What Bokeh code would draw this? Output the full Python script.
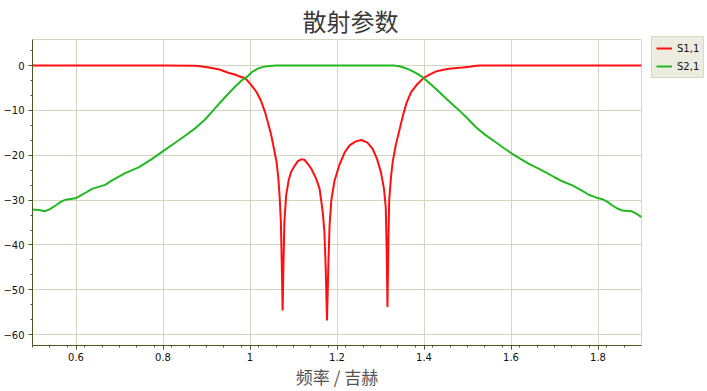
from bokeh.plotting import figure
from bokeh.models import (Range1d, FixedTicker, Legend, LegendItem)
from bokeh.embed import file_html
from bokeh.resources import INLINE

title_text = "散射参数"
x_label = "频率 / 吉赫"
series_names = ["S1,1", "S2,1"]

x_ticks = [0.6, 0.8, 1.0, 1.2, 1.4, 1.6, 1.8]
x_tick_labels = ["0.6", "0.8", "1", "1.2", "1.4", "1.6", "1.8"]
y_ticks = [-60, -50, -40, -30, -20, -10, 0]

freq_s11 = [0.50, 0.60, 0.70, 0.80, 0.874, 0.89, 0.912, 0.93, 0.95, 0.965, 0.975, 0.99,
            1.004, 1.015, 1.025, 1.034, 1.042, 1.049, 1.055, 1.061, 1.065, 1.068, 1.071,
            1.073, 1.075, 1.077, 1.079, 1.083, 1.089, 1.095, 1.103, 1.110, 1.118, 1.125,
            1.132, 1.141, 1.152, 1.160, 1.167, 1.171, 1.174, 1.177, 1.180, 1.183, 1.187,
            1.194, 1.206, 1.218, 1.229, 1.243, 1.256, 1.270, 1.282, 1.292, 1.301, 1.308,
            1.312, 1.314, 1.316, 1.318, 1.320, 1.324, 1.328, 1.335, 1.343, 1.352, 1.360,
            1.370, 1.385, 1.400, 1.415, 1.428, 1.445, 1.458, 1.475, 1.489, 1.505, 1.520,
            1.530, 1.60, 1.70, 1.80, 1.90]
s11_db = [0, 0, 0, 0, -0.05, -0.2, -0.55, -0.9, -1.6, -2.0, -2.4, -2.9,
          -4.5, -5.9, -7.8, -10.2, -13.0, -15.6, -18.5, -21.5, -25.0, -29.0, -35.0,
          -44.0, -54.6, -44.0, -35.0, -29.0, -25.5, -23.6, -22.3, -21.3, -20.9, -21.0,
          -21.8, -23.0, -25.2, -27.5, -32.5, -37.0, -45.0, -56.8, -45.0, -35.5, -30.0,
          -25.8, -22.0, -19.3, -17.8, -16.9, -16.6, -17.2, -18.6, -20.8, -23.8, -27.5,
          -31.5, -40.0, -53.8, -40.0, -30.0, -25.0, -21.5, -17.8, -14.6, -11.0, -8.3,
          -6.0, -4.1, -2.7, -1.9, -1.3, -0.95, -0.7, -0.55, -0.45, -0.25, -0.05,
          0, 0, 0, 0, 0]

freq_s21 = [0.500, 0.515, 0.528, 0.540, 0.553, 0.565, 0.576, 0.599, 0.614, 0.637, 0.667,
            0.683, 0.713, 0.744, 0.775, 0.797, 0.828, 0.850, 0.874, 0.895, 0.912, 0.930,
            0.950, 0.965, 0.981, 0.992, 1.004, 1.018, 1.030, 1.045, 1.060, 1.330, 1.343,
            1.355, 1.366, 1.380, 1.397, 1.415, 1.435, 1.458, 1.481, 1.500, 1.519, 1.540,
            1.565, 1.585, 1.603, 1.620, 1.641, 1.660, 1.680, 1.700, 1.718, 1.741, 1.760,
            1.779, 1.795, 1.810, 1.822, 1.833, 1.845, 1.856, 1.868, 1.878, 1.888, 1.900]
s21_db = [-32.1, -32.2, -32.5, -32.0, -31.2, -30.4, -29.9, -29.6, -28.8, -27.5, -26.6,
          -25.6, -24.0, -22.7, -20.8, -19.3, -17.2, -15.7, -14.0, -12.2, -10.4, -8.4,
          -6.3, -4.8, -3.3, -2.6, -1.5, -0.7, -0.3, -0.1, 0, 0, -0.15,
          -0.5, -0.9, -1.6, -2.6, -4.1, -5.9, -8.0, -10.0, -11.8, -13.7, -15.4,
          -17.1, -18.5, -19.7, -20.7, -21.9, -22.8, -23.8, -24.9, -25.8, -26.7, -27.7,
          -28.8, -29.4, -29.8, -30.4, -31.2, -31.9, -32.3, -32.4, -32.5, -33.0, -33.8]

AXIS = "#4d5726"
GRID = "#d6d6c0"

p = figure(frame_width=609, frame_height=306, output_backend="svg", toolbar_location=None,
           x_range=Range1d(0.5, 1.9), y_range=Range1d(-62.4, 5.8),
           min_border_left=32, min_border_right=66, min_border_top=39, min_border_bottom=46)
p.background_fill_color = "white"
p.border_fill_color = "white"
p.outline_line_color = GRID

p.title.text = title_text
p.title.align = "left"
p.title.offset = 270
p.title.standoff = 0
p.title.vertical_align = "top"
p.title.text_font = "Noto Sans CJK SC"
p.title.text_font_size = "24px"
p.title.text_font_style = "normal"
p.title.text_color = "#3a3a3a"

p.xaxis.ticker = FixedTicker(ticks=x_ticks,
                             minor_ticks=[0.5 + 0.04 * i for i in range(36)])
p.xaxis.major_label_overrides = {t: l for t, l in zip(x_ticks, x_tick_labels)}
p.yaxis.ticker = FixedTicker(ticks=y_ticks,
                             minor_ticks=[-60 + 10 * i / 3 for i in range(-1, 21)])
p.xaxis.axis_label = x_label
p.xaxis.axis_label_text_font = "Noto Sans CJK SC"
p.xaxis.axis_label_text_font_size = "17px"
p.xaxis.axis_label_text_font_style = "normal"
p.xaxis.axis_label_text_color = "#555555"
p.xaxis.axis_label_standoff = 0

for ax in (p.xaxis, p.yaxis):
    ax.axis_line_color = AXIS
    ax.major_tick_line_color = AXIS
    ax.minor_tick_line_color = AXIS
    ax.major_tick_out = 4
    ax.major_tick_in = 0
    ax.minor_tick_out = 2
    ax.minor_tick_in = 0
    ax.major_label_text_font = "DejaVu Sans"
    ax.major_label_text_font_size = "10px"
    ax.major_label_text_color = "#111111"
    ax.major_label_standoff = 4
p.xaxis.major_label_standoff = 3

p.xgrid.ticker = FixedTicker(ticks=x_ticks)
p.ygrid.ticker = FixedTicker(ticks=y_ticks)
p.grid.grid_line_color = GRID
p.grid.grid_line_width = 1

r1 = p.line(freq_s11, s11_db, line_color="#ff1010", line_width=2)
r2 = p.line(freq_s21, s21_db, line_color="#22b822", line_width=2)

legend = Legend(items=[LegendItem(label=series_names[0], renderers=[r1]),
                       LegendItem(label=series_names[1], renderers=[r2])],
                location=(10, 267), orientation="vertical")
legend.background_fill_color = "#ececdf"
legend.background_fill_alpha = 1
legend.border_line_color = "#c8c8a8"
legend.label_text_font = "DejaVu Sans"
legend.label_text_font_size = "10px"
legend.label_text_color = "#111111"
legend.glyph_width = 16
legend.glyph_height = 14
legend.label_height = 14
legend.label_standoff = 5
legend.padding = 4
legend.spacing = 4
legend.margin = 0
p.add_layout(legend, "right")

open("out.html", "w").write(file_html(p, INLINE))
